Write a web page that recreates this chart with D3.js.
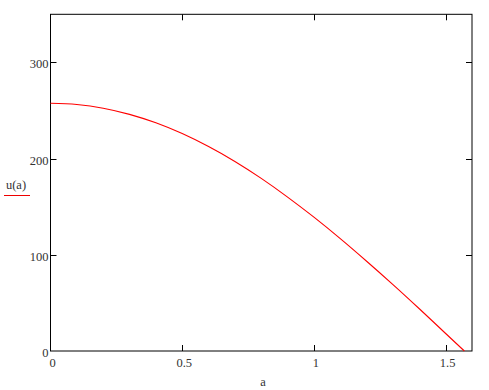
<!DOCTYPE html>
<html><head><meta charset="utf-8">
<script src="https://cdn.jsdelivr.net/npm/d3@7"></script>
<style>body{margin:0;background:#fff}svg{display:block}</style>
</head><body><svg id="c" width="489" height="390"></svg>
<script>
const aValues = [0,0.1,0.2,0.3,0.4,0.5,0.6,0.7,0.8,0.9,1.0,1.1,1.2,1.3,1.4,1.5,1.571];
const uValues = [257.5,256.2,252.4,246,237.2,226,212.5,197,179.4,160,139.1,116.8,93.3,69,43.9,18.2,0];
const xTicks = [0,0.5,1,1.5];
const xTickLabels = ["0","0.5","1","1.5"];
const yTicks = [0,100,200,300];
const yTickLabels = ["0","100","200","300"];
const xLabel = "a";
const yLabel = "u(a)";

const FONT = "'Liberation Serif','Times New Roman','DejaVu Serif',serif";
const svg = d3.select("#c");
const L=50.5, R=472, T=14.3, B=351;
const x = d3.scaleLinear().domain([0,1.6]).range([L,R]);
const y = d3.scaleLinear().domain([0,350]).range([B,T]);
const tl = 6;

function txt(xp, yp, s, anchor){
  return svg.append("text").attr("x",xp).attr("y",yp).attr("text-anchor",anchor)
    .attr("font-family",FONT).attr("font-size",12.5).attr("fill","#333").text(s);
}

svg.append("rect").attr("x",L).attr("y",T).attr("width",R-L).attr("height",B-T)
  .attr("fill","none").attr("stroke","#000").attr("stroke-width",1);

const g = svg.append("g").attr("stroke","#000").attr("stroke-width",1);
xTicks.forEach(t=>{
  if(t===0) return;
  const px=Math.round(x(t))+0.5;
  g.append("line").attr("x1",px).attr("x2",px).attr("y1",B).attr("y2",B-tl);
  g.append("line").attr("x1",px).attr("x2",px).attr("y1",T).attr("y2",T+tl);
});
yTicks.forEach(t=>{
  if(t===0) return;
  const py=Math.round(y(t))+0.5;
  g.append("line").attr("x1",L).attr("x2",L+tl).attr("y1",py).attr("y2",py);
  g.append("line").attr("x1",R).attr("x2",R-tl).attr("y1",py).attr("y2",py);
});

xTicks.forEach((t,i)=>{ txt(x(t)+2, B+16, xTickLabels[i], "middle"); });
yTicks.forEach((t,i)=>{ txt(L-2, y(t)+6, yTickLabels[i], "end"); });

txt(263, 386, xLabel, "middle");
txt(16, 189, yLabel, "middle");
svg.append("line").attr("x1",4).attr("x2",30).attr("y1",195.5).attr("y2",195.5).attr("stroke","#e00").attr("stroke-width",1);

const data = aValues.map((a,i)=>[a,uValues[i]]);
svg.append("path").datum(data)
  .attr("d", d3.line().x(d=>x(d[0])).y(d=>y(d[1])).curve(d3.curveMonotoneX))
  .attr("fill","none").attr("stroke","#f00").attr("stroke-width",1.1);
</script></body></html>
